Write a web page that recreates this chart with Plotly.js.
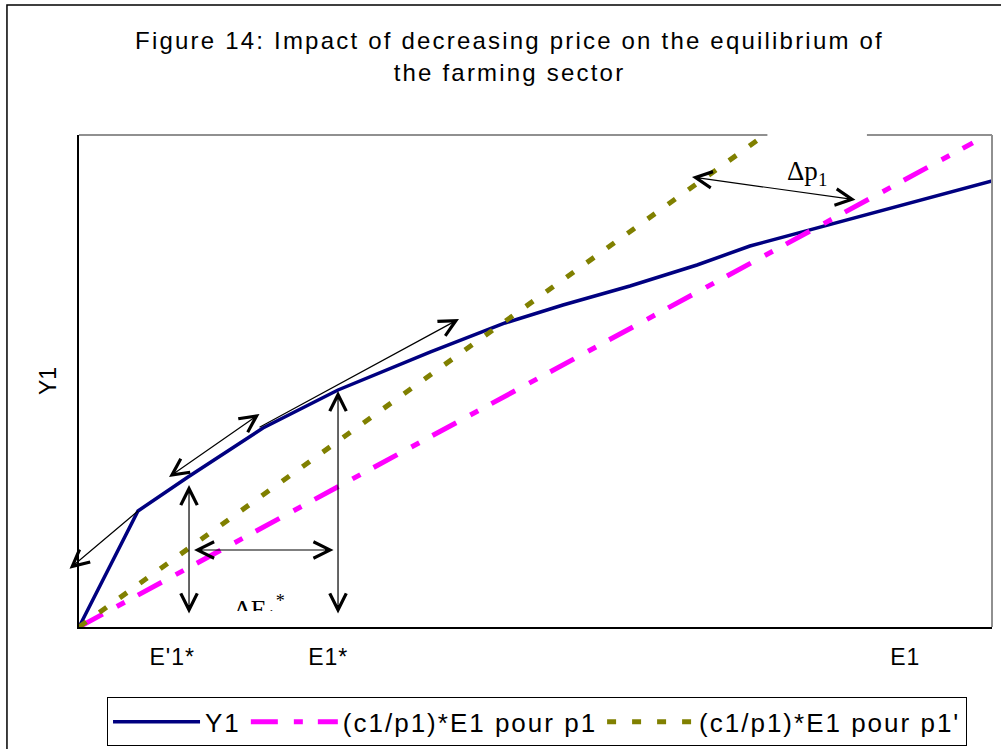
<!DOCTYPE html>
<html>
<head>
<meta charset="utf-8">
<script src="https://cdn.plot.ly/plotly-3.0.1.min.js"></script>
<style>
  html, body { margin: 0; padding: 0; background: #fff; }
  #chart { width: 1001px; height: 749px; }
  .gtitle { letter-spacing: 2.2px; }
  .legendtext { letter-spacing: 2px; }
  .xtick text { letter-spacing: 1px; }
</style>
</head>
<body>
<div id="chart"></div>
<script>
// ---- data (axis units 0..100) ----
const y1X = [0, 6.46, 11.94, 20.15, 28.37, 38.44, 46.66, 53.01, 60.35, 67.69, 73.49, 80.39, 100];
const y1Y = [0, 23.58, 30.49, 40.45, 48.17, 55.89, 61.79, 65.45, 69.31, 73.58, 77.44, 80.89, 90.65];

const p1X = [0, 97.9];
const p1Y = [0, 98.4];

const p1pX = [0, 75.1];
const p1pY = [0, 100];

const seriesNames = ["Y1", "(c1/p1)*E1 pour p1", "(c1/p1)*E1 pour p1'"];

const tickVals = [10.2, 27.3, 90.5];
const tickText = ["E'1*", "E1*", "E1"];

// arrows: [xHead, yHead, xTail, yTail, doubleHeaded]
const arrowList = [
  [6.46, 23.58, -1.20, 11.59, false],
  [9.86, 30.49, 19.93, 43.50, true],
  [41.62, 62.60, 19.61, 40.45, false],
  [12.05, 28.86, 12.05, 2.44, true],
  [28.37, 47.97, 28.37, 2.44, true],
  [12.60, 15.65, 28.04, 15.65, true],
  [67.14, 91.46, 85.21, 86.79, true]
];

const traces = [
  { x: y1X, y: y1Y, name: seriesNames[0], mode: "lines",
    line: { color: "#000080", width: 3.5 } },
  { x: p1X, y: p1Y, name: seriesNames[1], mode: "lines",
    line: { color: "#ff00ff", width: 5, dash: "27px,16px,9px,15px" } },
  { x: p1pX, y: p1pY, name: seriesNames[2], mode: "lines",
    line: { color: "#808000", width: 5, dash: "9px,16px" } }
];

const HS = 2.7;
const AW = 1.2;
const annotations = arrowList.map(a => {
  if (a[2] < 0) {
    // anchor kept inside the axis range; head drawn at the tail end
    return { x: a[0], y: a[1], ax: a[2], ay: a[3], xref: "x", yref: "y", axref: "x", ayref: "y",
      text: "", showarrow: true, arrowside: "start", startarrowhead: 5, startarrowsize: HS,
      arrowwidth: AW, arrowcolor: "#000" };
  }
  return { x: a[0], y: a[1], ax: a[2], ay: a[3], xref: "x", yref: "y", axref: "x", ayref: "y",
    text: "", showarrow: true, arrowside: a[4] ? "end+start" : "end",
    arrowhead: 5, startarrowhead: 5, arrowsize: HS, startarrowsize: HS,
    arrowwidth: AW, arrowcolor: "#000" };
});

annotations.push({
  x: 79.74, y: 92.3, xref: "x", yref: "y", showarrow: false,
  text: "Δp<sub>1</sub>", font: { family: "Liberation Serif, Times New Roman, serif", size: 27, color: "#000" }
});
annotations.push({
  x: 19.8, y: 7.7, xref: "x", yref: "y", showarrow: false, yanchor: "top",
  height: 20, valign: "top",
  text: "ΔE<sub>1</sub><sup>*</sup>", font: { family: "Liberation Serif, Times New Roman, serif", size: 26, color: "#000" }
});

// frame lines (paper coordinates)
const shapes = [
  { type: "rect", xref: "paper", yref: "paper", x0: -0.0789, x1: 1.03, y0: -0.3, y1: 1.2642,
    line: { color: "#000", width: 1.5 }, fillcolor: "rgba(0,0,0,0)", layer: "below" },
  { type: "line", xref: "paper", yref: "paper", x0: 0, x1: 0.754, y0: 1, y1: 1,
    line: { color: "#909090", width: 2 } },
  { type: "line", xref: "paper", yref: "paper", x0: 0.863, x1: 1, y0: 1, y1: 1,
    line: { color: "#909090", width: 2 } },
  { type: "line", xref: "paper", yref: "paper", x0: 1, x1: 1, y0: 0, y1: 1,
    line: { color: "#909090", width: 2 } }
];

const layout = {
  width: 1001, height: 749,
  margin: { l: 79, r: 9, t: 135, b: 122, autoexpand: false },
  paper_bgcolor: "#fff", plot_bgcolor: "#fff",
  font: { family: "Liberation Sans, Arial, sans-serif", color: "#000" },
  title: {
    text: "Figure 14: Impact of decreasing price on the equilibrium of<br>the farming sector",
    font: { size: 24, color: "#000" },
    x: 0.509, xanchor: "center", y: 0.934, yanchor: "top"
  },
  xaxis: {
    range: [0, 100], showgrid: false, zeroline: false,
    showline: true, linecolor: "#000", linewidth: 1.5,
    tickmode: "array", tickvals: tickVals, ticktext: tickText,
    ticks: "", ticklabelstandoff: 9, tickfont: { size: 23, color: "#000" }
  },
  yaxis: {
    range: [0, 100], showgrid: false, zeroline: false,
    showline: true, linecolor: "#000", linewidth: 2,
    showticklabels: false, ticks: "",
    title: { text: "Y1", font: { size: 23, color: "#000" }, standoff: 14 }
  },
  showlegend: true,
  legend: {
    orientation: "h", x: 0.0307, xanchor: "left", y: -0.143, yanchor: "top",
    bordercolor: "#000", borderwidth: 1, bgcolor: "#fff",
    font: { size: 26, color: "#000" }, itemwidth: 87
  },
  annotations: annotations,
  shapes: shapes
};

Plotly.newPlot("chart", traces, layout, { displayModeBar: false, staticPlot: true });
</script>
</body>
</html>
